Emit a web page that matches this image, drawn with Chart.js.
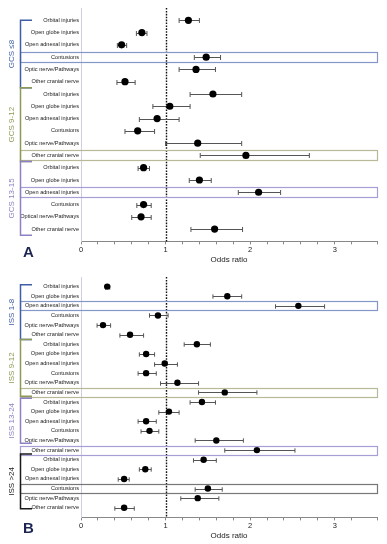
<!DOCTYPE html>
<html>
<head>
<meta charset="utf-8">
<script src="https://cdn.jsdelivr.net/npm/chart.js@4.4.1/dist/chart.umd.min.js"></script>
<style>
  html, body { margin: 0; padding: 0; background: #fff; }
  #wrap { position: relative; width: 387px; height: 544px; overflow: hidden; }
  canvas { position: absolute; left: 0; }
  #chartA { top: 0; }
  #chartB { top: 268px; }
</style>
</head>
<body>
<div id="wrap">
  <canvas id="chartA" width="387" height="267"></canvas>
  <canvas id="chartB" width="387" height="275"></canvas>
</div>
<script>
// ─── Data ────────────────────────────────────────────────
const labelsA = [
  'Orbital injuries', 'Open globe injuries', 'Open adnexal injuries', 'Contusions', 'Optic nerve/Pathways', 'Other cranial nerve',
  'Orbital injuries', 'Open globe injuries', 'Open adnexal injuries', 'Contusions', 'Optic nerve/Pathways', 'Other cranial nerve',
  'Orbital injuries', 'Open globe injuries', 'Open adnexal injuries', 'Contusions', 'Optical nerve/Pathways', 'Other cranial nerve'
];
const oddsA = [1.27, 0.72, 0.48, 1.48, 1.36, 0.52, 1.56, 1.05, 0.90, 0.67, 1.38, 1.95, 0.74, 1.40, 2.10, 0.74, 0.71, 1.58];
const lowA  = [1.16, 0.655, 0.43, 1.34, 1.16, 0.425, 1.29, 0.85, 0.69, 0.52, 1.00, 1.41, 0.675, 1.28, 1.86, 0.66, 0.60, 1.30];
const highA = [1.40, 0.78, 0.54, 1.65, 1.59, 0.64, 1.90, 1.29, 1.16, 0.87, 1.90, 2.70, 0.81, 1.54, 2.36, 0.83, 0.83, 1.91];
const groupsA = ['GCS ≤8', 'GCS 9-12', 'GCS 13-15'];
const groupRowsA = [[1, 6.5], [6.5, 12.5], [12.5, 18.5]];
const highlightA = [4, 12, 15];

const labelsB = [
  'Orbital injuries', 'Open globe injuries', 'Open adnexal injuries', 'Contusions', 'Optic nerve/Pathways', 'Other cranial nerve',
  'Orbital injuries', 'Open globe injuries', 'Open adnexal injuries', 'Contusions', 'Optic nerve/Pathways', 'Other cranial nerve',
  'Orbital injuries', 'Open globe injuries', 'Open adnexal injuries', 'Contusions', 'Optic nerve/Pathways', 'Other cranial nerve',
  'Orbital injuries', 'Open globe injuries', 'Open adnexal injuries', 'Contusions', 'Optic nerve/Pathways', 'Other cranial nerve'
];
const oddsB = [0.31, 1.73, 2.57, 0.91, 0.26, 0.58, 1.37, 0.77, 0.99, 0.77, 1.14, 1.70, 1.43, 1.04, 0.77, 0.81, 1.60, 2.08, 1.45, 0.76, 0.51, 1.50, 1.38, 0.51];
const lowB  = [0.29, 1.56, 2.30, 0.81, 0.19, 0.46, 1.22, 0.69, 0.87, 0.675, 0.94, 1.39, 1.29, 0.92, 0.675, 0.71, 1.35, 1.70, 1.33, 0.69, 0.44, 1.35, 1.18, 0.40];
const highB = [0.34, 1.90, 2.88, 1.03, 0.35, 0.74, 1.53, 0.87, 1.14, 0.89, 1.39, 2.08, 1.59, 1.16, 0.89, 0.92, 1.92, 2.53, 1.60, 0.83, 0.57, 1.67, 1.63, 0.63];
const groupsB = ['ISS 1-8', 'ISS 9-12', 'ISS 13-24', 'ISS >24'];
const groupRowsB = [[0.8, 6.5], [6.5, 12.4], [12.6, 17.3], [18.4, 24.1]];
const highlightB = [3, 12, 18, 22];

const xTicks = [0, 1, 2, 3];

// ─── Styles ──────────────────────────────────────────────
const GROUP_COLORS = ['#3f5ea6', '#8c9a55', '#8f80c4', '#1a1a1a'];
const BOX_COLORS = ['#8498c8', '#b9b99a', '#a89ed6', '#777777'];
const SANS = "'Liberation Sans', Arial, sans-serif";

function forestPlugin(p) {
  return {
    id: 'forest' + p.letter,
    beforeDatasetsDraw(chart) {
      const { ctx, chartArea, scales: { x, y } } = chart;
      ctx.save();
      // reference line at OR = 1
      const x1 = Math.round(x.getPixelForValue(1)) + 0.5;
      ctx.strokeStyle = '#111';
      ctx.lineWidth = 1.4;
      ctx.setLineDash([1.6, 1.3]);
      ctx.beginPath();
      ctx.moveTo(x1, chartArea.top);
      ctx.lineTo(x1, chartArea.bottom);
      ctx.stroke();
      ctx.setLineDash([]);
      // confidence intervals
      ctx.strokeStyle = '#555';
      ctx.lineWidth = 1;
      p.low.forEach((lo, i) => {
        const yy = Math.round(y.getPixelForValue(i + 1)) + 0.5;
        const xl = x.getPixelForValue(lo);
        const xh = x.getPixelForValue(p.high[i]);
        ctx.beginPath();
        ctx.moveTo(xl, yy); ctx.lineTo(xh, yy);
        ctx.moveTo(xl, yy - p.cap); ctx.lineTo(xl, yy + p.cap);
        ctx.moveTo(xh, yy - p.cap); ctx.lineTo(xh, yy + p.cap);
        ctx.stroke();
      });
      ctx.restore();
    },
    afterDraw(chart) {
      const { ctx, chartArea, scales: { y } } = chart;
      const step = Math.abs(y.getPixelForValue(1) - y.getPixelForValue(0));
      ctx.save();
      // highlighted rows
      p.highlight.forEach((row, k) => {
        const yy = y.getPixelForValue(row);
        const h = step * p.boxH;
        ctx.strokeStyle = BOX_COLORS[k];
        ctx.lineWidth = 1.2;
        ctx.strokeRect(20.5, Math.round(yy - h / 2) + 0.5, chartArea.right - 20, Math.round(h));
      });
      // group brackets and labels
      p.groups.forEach((name, k) => {
        const [r0, r1] = p.groupRows[k];
        const y0 = y.getPixelForValue(r0);
        const y1 = y.getPixelForValue(r1);
        ctx.strokeStyle = GROUP_COLORS[k];
        ctx.lineWidth = 1.5;
        ctx.beginPath();
        ctx.moveTo(32, y0); ctx.lineTo(20.5, y0); ctx.lineTo(20.5, y1); ctx.lineTo(32, y1);
        ctx.stroke();
        ctx.save();
        ctx.translate(12, (y0 + y1) / 2);
        ctx.rotate(-Math.PI / 2);
        ctx.fillStyle = GROUP_COLORS[k];
        ctx.font = '8px ' + SANS;
        ctx.textAlign = 'center';
        ctx.textBaseline = 'middle';
        ctx.fillText(name, 0, 0);
        ctx.restore();
      });
      // panel letter
      ctx.fillStyle = '#1b2550';
      ctx.font = 'bold 15px ' + SANS;
      ctx.textAlign = 'left';
      ctx.textBaseline = 'middle';
      ctx.fillText(p.letter, 23, chartArea.bottom + 11);
      ctx.restore();
    }
  };
}

function makeChart(id, p) {
  const n = p.labels.length;
  return new Chart(document.getElementById(id), {
    type: 'scatter',
    data: {
      datasets: [{
        data: p.odds.map((v, i) => ({ x: v, y: i + 1 })),
        backgroundColor: '#000',
        borderWidth: 0,
        pointRadius: p.radius,
      }]
    },
    options: {
      responsive: false,
      animation: false,
      devicePixelRatio: 1,
      layout: { padding: { top: p.top, right: 10, left: 0, bottom: 2 } },
      plugins: { legend: { display: false }, tooltip: { enabled: false } },
      scales: {
        x: {
          type: 'linear',
          min: 0,
          max: 3.5,
          ticks: {
            stepSize: 0.2,
            autoSkip: false,
            maxRotation: 0,
            padding: 1,
            color: '#222',
            font: { size: 7.5, family: SANS },
            callback: v => {
              const t = xTicks.find(t => Math.abs(t - v) < 1e-6);
              return t === undefined ? '' : String(t);
            }
          },
          grid: { drawOnChartArea: false, tickLength: 3, color: '#888' },
          border: { color: '#888', width: 1 },
          title: {
            display: true,
            text: 'Odds ratio',
            color: '#222',
            padding: { top: 0, bottom: 0 },
            font: { size: 8, family: SANS }
          }
        },
        y: {
          type: 'linear',
          min: 0,
          max: n + 1,
          reverse: true,
          afterFit: s => { s.width = 81; },
          ticks: {
            stepSize: 1,
            autoSkip: false,
            padding: 2,
            color: '#222',
            font: { size: 5.6, family: SANS },
            callback: v => p.labels[v - 1] || ''
          },
          grid: { display: false, drawTicks: false },
          border: { display: true, color: '#cfcfe0', width: 1 }
        }
      }
    },
    plugins: [forestPlugin(p)]
  });
}

makeChart('chartA', {
  letter: 'A', labels: labelsA, odds: oddsA, low: lowA, high: highA,
  groups: groupsA, groupRows: groupRowsA, highlight: highlightA,
  top: 8, radius: 3.6, cap: 2.5, boxH: 0.8
});
makeChart('chartB', {
  letter: 'B', labels: labelsB, odds: oddsB, low: lowB, high: highB,
  groups: groupsB, groupRows: groupRowsB, highlight: highlightB,
  top: 9, radius: 3.2, cap: 2.2, boxH: 0.95
});
</script>
</body>
</html>
